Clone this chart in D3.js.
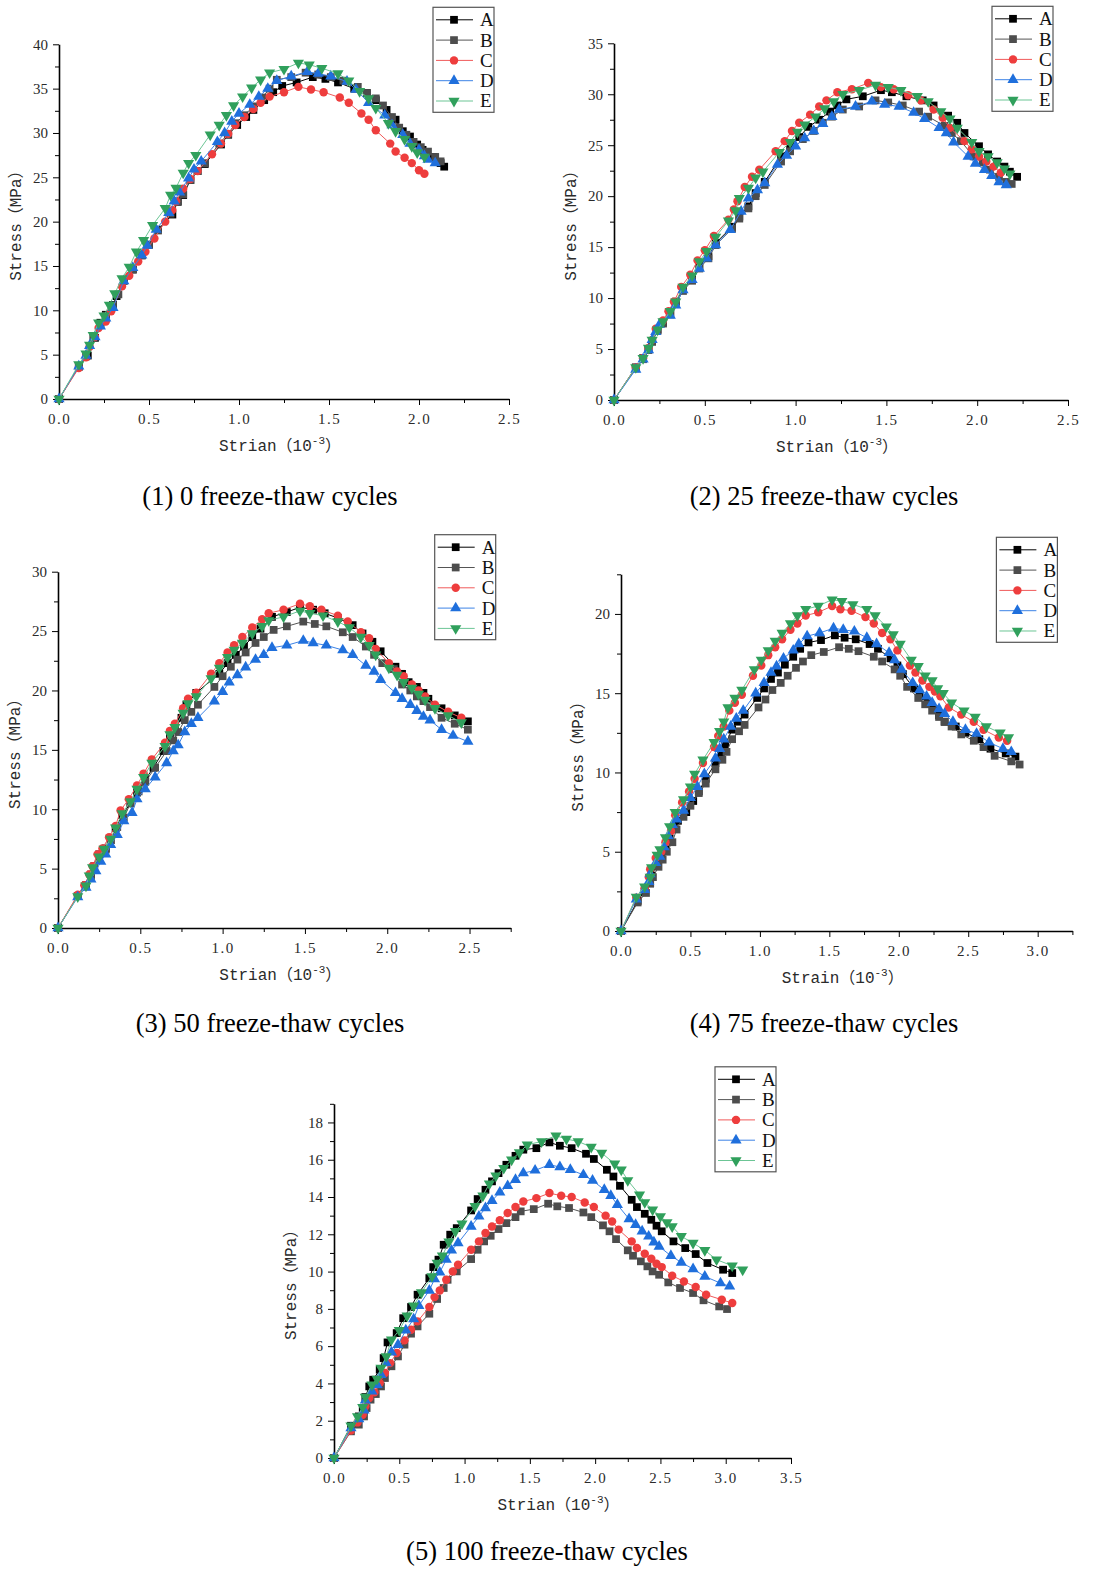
<!DOCTYPE html>
<html>
<head>
<meta charset="utf-8">
<script src="https://cdn.jsdelivr.net/npm/d3@7"></script>
<style>
  body { margin: 0; background: #fff; }
  .tick text { font-family: 'Liberation Serif', serif; font-size: 15px; fill: #2a2a2a; }
  .axis path, .axis line { stroke: #000; }
  .title { font-family: 'Liberation Mono', 'Noto Sans CJK SC', monospace; font-size: 16px; fill: #2a2a2a; }
  .caption { font-family: 'Liberation Serif', serif; font-size: 26.5px; fill: #000; }
  .legtext { font-family: 'Liberation Serif', serif; font-size: 19px; fill: #111; }
</style>
</head>
<body>
<svg id="chart" width="1093" height="1569"></svg>
<script>
// stress-strain curves of five specimens (A-E) after freeze-thaw cycles

var seriesNames = ['A', 'B', 'C', 'D', 'E']
var seriesColors = ['#000000', '#4d4d4d', '#ee3d3d', '#1f6fdc', '#30a05c']
var lineColors = ['#000000', '#555555', '#f05a5a', '#3d83e6', '#6cc595']
var captions = ['(1) 0 freeze-thaw cycles', '(2) 25 freeze-thaw cycles', '(3) 50 freeze-thaw cycles',
  '(4) 75 freeze-thaw cycles', '(5) 100 freeze-thaw cycles']
var xTitles = ['Strian', 'Strian', 'Strian', 'Strain', 'Strian']

// (1) 0 cycles
var p1A = [[0,0],[0.11,3.7],[0.16,4.9],[0.2,6.9],[0.23,8.6],[0.26,9.5],[0.3,10.6],[0.32,11.6],[0.36,13.4],[0.41,14.6],[0.46,16.2],[0.5,17.4],[0.55,19.1],[0.63,20.8],[0.66,22.3],[0.69,23.0],[0.73,24.7],[0.77,25.7],[0.81,26.5],[0.9,28.7],[0.94,29.8],[0.99,30.9],[1.04,31.8],[1.08,32.6],[1.14,33.7],[1.19,34.6],[1.24,35.3],[1.32,35.7],[1.41,36.3],[1.48,36.1],[1.55,35.7],[1.64,35.0],[1.71,34.5],[1.76,33.7],[1.82,32.6],[1.87,31.5],[1.91,30.2],[1.95,29.6],[1.99,28.7],[2.02,28.1],[2.08,27.3],[2.12,26.6],[2.14,26.2]]
var p1B = [[0,0],[0.11,3.6],[0.15,4.8],[0.19,6.9],[0.23,8.4],[0.26,9.4],[0.3,10.5],[0.33,11.8],[0.36,13.3],[0.41,14.6],[0.46,16.2],[0.5,17.4],[0.55,19.0],[0.62,20.9],[0.66,22.2],[0.69,23.1],[0.73,24.7],[0.77,25.7],[0.81,26.6],[0.89,28.8],[0.94,29.9],[0.98,31.1],[1.03,32.0],[1.08,33.0],[1.13,34.0],[1.17,35.0],[1.21,36.0],[1.29,36.3],[1.37,36.8],[1.44,36.6],[1.51,36.3],[1.58,35.9],[1.66,35.2],[1.71,34.5],[1.76,33.9],[1.8,33.1],[1.85,31.8],[1.89,30.6],[1.93,29.8],[1.97,29.0],[2.01,28.4],[2.05,27.9],[2.09,27.3],[2.12,26.8]]
var p1C = [[0,0],[0.11,3.5],[0.15,4.7],[0.17,5.9],[0.2,7.0],[0.22,8.0],[0.26,8.75],[0.29,9.9],[0.35,12.7],[0.39,13.9],[0.44,15.5],[0.48,16.6],[0.53,18.1],[0.59,20.0],[0.63,21.3],[0.65,22.3],[0.69,23.7],[0.73,24.8],[0.77,25.7],[0.85,27.6],[0.9,28.8],[0.94,29.9],[0.98,30.9],[1.03,31.8],[1.08,32.7],[1.12,33.4],[1.17,34.1],[1.25,34.6],[1.33,35.2],[1.4,34.9],[1.47,34.6],[1.56,34.0],[1.61,33.4],[1.68,32.2],[1.72,31.5],[1.76,30.3],[1.84,28.8],[1.87,27.9],[1.92,27.2],[1.96,26.6],[2.0,25.8],[2.03,25.4]]
var p1D = [[0,0],[0.11,3.7],[0.15,4.9],[0.17,6.0],[0.2,7.0],[0.23,8.2],[0.26,9.1],[0.3,10.3],[0.36,13.3],[0.41,14.8],[0.46,16.2],[0.49,17.3],[0.54,19.1],[0.61,21.0],[0.64,22.3],[0.67,23.3],[0.72,24.9],[0.75,25.9],[0.79,26.8],[0.88,29.0],[0.92,30.0],[0.96,31.3],[1.0,32.2],[1.06,33.2],[1.11,34.1],[1.16,35.0],[1.21,35.9],[1.29,36.4],[1.38,36.9],[1.44,36.7],[1.51,36.4],[1.6,35.8],[1.65,34.9],[1.72,33.4],[1.81,32.0],[1.85,30.9],[1.91,29.8],[1.95,28.8],[2.0,28.1],[2.03,27.4],[2.05,27.0],[2.09,26.6]]
var p1E = [[0,0],[0.11,3.9],[0.15,5.1],[0.17,6.1],[0.19,7.2],[0.22,8.6],[0.25,9.4],[0.28,10.6],[0.31,11.9],[0.35,13.6],[0.39,14.9],[0.43,16.6],[0.47,17.9],[0.52,19.6],[0.59,21.5],[0.62,23.0],[0.65,23.8],[0.69,25.5],[0.72,26.6],[0.76,27.5],[0.84,29.8],[0.89,30.9],[0.93,32.0],[0.97,33.1],[1.02,34.1],[1.07,35.1],[1.12,36.0],[1.17,36.8],[1.25,37.2],[1.33,37.9],[1.39,37.7],[1.46,37.3],[1.55,36.7],[1.61,35.9],[1.67,34.7],[1.72,33.9],[1.76,32.8],[1.83,31.1],[1.87,30.2],[1.92,29.3],[1.96,28.5],[1.99,27.8],[2.03,27.3]]

// (2) 25 cycles
var p2A = [[0,0],[0.12,3.2],[0.16,4.1],[0.19,5.0],[0.21,5.8],[0.24,6.9],[0.27,7.6],[0.31,8.6],[0.34,9.65],[0.38,10.9],[0.43,11.9],[0.47,13.1],[0.52,14.1],[0.56,15.4],[0.65,17.0],[0.69,18.0],[0.74,19.0],[0.78,20.3],[0.83,21.4],[0.92,23.9],[0.97,24.9],[1.02,25.8],[1.07,26.8],[1.13,27.5],[1.19,28.3],[1.23,28.9],[1.28,29.5],[1.37,29.8],[1.47,30.4],[1.53,30.2],[1.61,29.8],[1.7,29.4],[1.76,28.9],[1.84,27.9],[1.89,27.2],[1.93,26.2],[2.01,24.9],[2.06,24.1],[2.11,23.4],[2.15,22.9],[2.18,22.4],[2.22,21.9]]
var p2B = [[0,0],[0.12,3.1],[0.16,4.0],[0.19,4.9],[0.21,5.7],[0.24,6.8],[0.27,7.5],[0.31,8.4],[0.34,9.4],[0.38,10.7],[0.43,11.7],[0.47,12.9],[0.52,13.9],[0.56,15.2],[0.65,16.8],[0.69,17.8],[0.74,18.8],[0.78,20.0],[0.83,21.1],[0.92,23.4],[0.97,24.4],[1.04,25.6],[1.1,26.4],[1.15,27.2],[1.2,27.8],[1.26,28.5],[1.35,28.8],[1.44,29.4],[1.51,29.2],[1.59,28.9],[1.68,28.3],[1.73,27.8],[1.82,26.9],[1.86,26.2],[1.91,25.4],[1.98,23.9],[2.03,23.3],[2.07,22.6],[2.12,21.9],[2.16,21.4],[2.19,21.2]]
var p2C = [[0,0],[0.12,3.2],[0.16,4.1],[0.19,5.1],[0.21,5.9],[0.23,7.0],[0.27,7.8],[0.3,8.7],[0.33,9.65],[0.37,11.1],[0.42,12.3],[0.46,13.7],[0.5,14.7],[0.55,16.1],[0.63,17.7],[0.66,18.7],[0.68,19.5],[0.72,20.9],[0.76,21.9],[0.8,22.6],[0.89,24.4],[0.94,25.4],[0.98,26.4],[1.02,27.2],[1.08,28.0],[1.13,28.8],[1.17,29.4],[1.23,30.2],[1.31,30.5],[1.4,31.1],[1.47,30.7],[1.54,30.5],[1.62,29.9],[1.69,29.4],[1.76,28.5],[1.81,27.7],[1.85,26.7],[1.93,25.4],[1.97,24.6],[2.01,23.9],[2.05,23.4],[2.09,22.9],[2.13,22.3]]
var p2D = [[0,0],[0.12,3.0],[0.16,4.0],[0.19,4.9],[0.21,5.9],[0.23,6.7],[0.25,7.4],[0.31,8.3],[0.34,9.3],[0.38,10.8],[0.43,11.8],[0.47,12.9],[0.51,13.9],[0.56,15.2],[0.64,16.7],[0.7,18.5],[0.74,19.8],[0.79,20.6],[0.83,21.3],[0.9,23.1],[0.95,24.0],[1.0,24.9],[1.05,25.7],[1.1,26.4],[1.15,27.1],[1.2,27.8],[1.24,28.5],[1.33,28.8],[1.42,29.3],[1.49,29.0],[1.57,28.8],[1.65,28.2],[1.71,27.6],[1.79,26.7],[1.83,26.2],[1.87,25.3],[1.95,23.9],[1.99,23.2],[2.04,22.6],[2.08,22.0],[2.12,21.4],[2.16,21.1]]
var p2E = [[0,0],[0.12,3.2],[0.16,4.1],[0.19,5.1],[0.21,5.9],[0.24,6.9],[0.27,7.7],[0.31,8.7],[0.34,9.65],[0.38,11.1],[0.43,12.2],[0.47,13.6],[0.51,14.6],[0.56,16.0],[0.63,17.6],[0.67,18.6],[0.69,19.8],[0.74,20.8],[0.78,21.8],[0.82,22.4],[0.91,24.3],[0.97,25.3],[1.01,26.3],[1.05,27.0],[1.11,27.8],[1.16,28.6],[1.21,29.3],[1.26,30.0],[1.35,30.4],[1.44,30.9],[1.51,30.7],[1.58,30.4],[1.67,29.8],[1.73,29.3],[1.8,28.3],[1.85,27.6],[1.89,26.7],[1.97,25.3],[2.01,24.4],[2.06,23.9],[2.11,23.3],[2.15,22.7],[2.18,22.2]]

// (3) 50 cycles
var p3A = [[0,0],[0.12,2.7],[0.17,3.6],[0.2,4.5],[0.22,5.2],[0.25,6.2],[0.29,6.7],[0.32,7.4],[0.35,8.4],[0.39,9.5],[0.44,10.5],[0.48,11.4],[0.53,12.5],[0.58,13.5],[0.64,14.9],[0.68,16.0],[0.71,16.7],[0.75,17.7],[0.78,18.8],[0.84,19.8],[0.98,21.4],[1.03,22.3],[1.08,23.0],[1.13,23.7],[1.18,24.5],[1.23,25.2],[1.3,26.2],[1.39,26.6],[1.47,27.0],[1.55,26.8],[1.62,26.5],[1.7,26.1],[1.79,25.5],[1.85,24.8],[1.91,24.1],[1.96,23.3],[2.05,22.0],[2.09,21.4],[2.13,20.7],[2.18,20.3],[2.22,19.8],[2.25,19.3],[2.33,18.5],[2.41,17.9],[2.49,17.4]]
var p3B = [[0,0],[0.12,2.7],[0.17,3.5],[0.2,4.35],[0.22,5.0],[0.25,5.9],[0.29,6.6],[0.32,7.4],[0.36,8.5],[0.4,9.3],[0.44,10.5],[0.49,11.5],[0.53,12.3],[0.59,13.5],[0.66,14.9],[0.7,15.8],[0.73,16.5],[0.77,17.5],[0.81,18.2],[0.85,18.8],[0.95,20.3],[1.0,21.2],[1.05,22.0],[1.09,22.6],[1.14,23.2],[1.2,24.0],[1.25,24.5],[1.31,25.1],[1.39,25.4],[1.49,25.8],[1.56,25.6],[1.63,25.4],[1.73,24.9],[1.79,24.5],[1.87,23.7],[1.92,23.0],[1.97,22.3],[2.04,21.8],[2.09,20.5],[2.14,20.0],[2.18,19.5],[2.22,19.1],[2.26,18.6],[2.33,17.7],[2.41,17.2],[2.49,16.7]]
var p3C = [[0,0],[0.12,2.8],[0.16,3.6],[0.19,4.5],[0.21,5.2],[0.24,6.2],[0.27,6.7],[0.31,7.65],[0.35,8.6],[0.38,9.9],[0.43,10.85],[0.48,12.0],[0.52,13.0],[0.57,14.2],[0.65,15.6],[0.68,16.6],[0.71,17.2],[0.76,18.5],[0.79,19.3],[0.84,19.8],[0.93,21.4],[0.98,22.3],[1.03,23.2],[1.07,23.8],[1.12,24.5],[1.18,25.3],[1.24,26.0],[1.28,26.5],[1.37,26.8],[1.47,27.3],[1.53,27.1],[1.6,26.8],[1.7,26.3],[1.76,25.8],[1.84,24.9],[1.89,24.4],[1.93,23.5],[2.01,22.3],[2.06,21.6],[2.1,21.2],[2.15,20.5],[2.19,20.0],[2.23,19.5],[2.29,18.8],[2.37,18.2],[2.45,17.7]]
var p3D = [[0,0],[0.12,2.6],[0.17,3.4],[0.2,4.1],[0.23,4.8],[0.26,5.6],[0.29,6.2],[0.32,7.0],[0.36,7.85],[0.4,9.0],[0.45,9.7],[0.48,10.85],[0.53,11.7],[0.59,12.7],[0.66,13.9],[0.7,14.9],[0.73,15.4],[0.77,16.5],[0.81,17.2],[0.85,17.7],[0.95,19.1],[1.0,19.9],[1.04,20.7],[1.09,21.3],[1.14,21.95],[1.2,22.6],[1.25,23.0],[1.3,23.6],[1.39,23.8],[1.49,24.2],[1.55,24.0],[1.63,23.8],[1.73,23.4],[1.79,23.0],[1.87,22.1],[1.92,21.6],[1.96,20.9],[2.05,19.8],[2.09,19.3],[2.14,18.8],[2.18,18.3],[2.22,17.8],[2.26,17.5],[2.33,16.7],[2.4,16.2],[2.49,15.7]]
var p3E = [[0,0],[0.12,2.65],[0.17,3.55],[0.19,4.4],[0.21,5.1],[0.25,6.0],[0.28,6.65],[0.32,7.5],[0.35,8.45],[0.39,9.65],[0.44,10.65],[0.48,11.7],[0.52,12.7],[0.57,13.9],[0.65,15.3],[0.68,16.3],[0.71,16.9],[0.76,18.1],[0.79,18.9],[0.84,19.5],[0.93,21.0],[0.98,21.9],[1.03,22.8],[1.07,23.4],[1.12,24.0],[1.18,24.8],[1.24,25.4],[1.28,25.9],[1.37,26.2],[1.47,26.7],[1.53,26.5],[1.61,26.3],[1.7,25.8],[1.77,25.3],[1.84,24.5],[1.89,23.8],[1.93,23.0],[2.01,21.9],[2.06,21.3],[2.1,20.7],[2.15,20.2],[2.19,19.7],[2.23,19.2],[2.29,18.5],[2.37,17.9],[2.45,17.3]]

// (4) 75 cycles
var p4A = [[0,0],[0.12,1.9],[0.17,2.5],[0.21,3.0],[0.22,3.5],[0.26,4.2],[0.29,4.6],[0.32,5.15],[0.35,5.85],[0.38,6.5],[0.41,6.95],[0.47,7.5],[0.52,8.2],[0.56,8.8],[0.61,9.6],[0.68,10.6],[0.72,11.2],[0.75,11.75],[0.8,12.7],[0.84,13.2],[0.89,13.65],[0.98,14.7],[1.03,15.3],[1.08,15.9],[1.13,16.3],[1.18,16.8],[1.24,17.3],[1.29,17.8],[1.35,18.2],[1.44,18.35],[1.54,18.65],[1.61,18.5],[1.69,18.4],[1.79,18.1],[1.85,17.8],[1.94,17.2],[1.99,16.75],[2.03,16.2],[2.11,15.3],[2.15,14.8],[2.21,14.4],[2.25,14.0],[2.29,13.6],[2.33,13.2],[2.41,12.9],[2.48,12.5],[2.58,12.1],[2.66,11.5],[2.77,11.2],[2.84,11.0]]
var p4B = [[0,0],[0.12,1.8],[0.18,2.4],[0.21,3.0],[0.23,3.4],[0.27,4.05],[0.3,4.5],[0.33,5.0],[0.37,5.6],[0.4,6.4],[0.45,7.2],[0.5,7.9],[0.56,8.7],[0.61,9.3],[0.68,10.2],[0.73,10.8],[0.76,11.3],[0.8,12.1],[0.85,12.6],[0.89,13.0],[0.99,14.1],[1.04,14.6],[1.09,15.2],[1.15,15.65],[1.2,16.1],[1.26,16.6],[1.31,17.0],[1.37,17.4],[1.46,17.6],[1.57,17.9],[1.64,17.8],[1.71,17.65],[1.82,17.3],[1.88,17.0],[1.97,16.5],[2.01,16.1],[2.06,15.4],[2.14,14.7],[2.19,14.3],[2.24,13.9],[2.29,13.5],[2.33,13.2],[2.38,12.9],[2.45,12.4],[2.54,12.0],[2.61,11.6],[2.69,11.05],[2.81,10.7],[2.87,10.5]]
var p4C = [[0,0],[0.11,2.1],[0.17,2.7],[0.2,3.4],[0.21,3.9],[0.25,4.6],[0.29,5.0],[0.32,5.6],[0.36,6.3],[0.39,7.3],[0.44,8.1],[0.49,8.8],[0.53,9.6],[0.59,10.6],[0.67,11.6],[0.7,12.3],[0.74,12.9],[0.78,13.9],[0.82,14.4],[0.87,14.9],[0.95,16.1],[1.01,16.75],[1.06,17.4],[1.11,17.9],[1.16,18.4],[1.22,19.0],[1.27,19.4],[1.33,19.9],[1.42,20.1],[1.52,20.5],[1.58,20.3],[1.66,20.2],[1.76,19.8],[1.82,19.4],[1.88,18.8],[1.94,18.4],[1.99,17.7],[2.08,16.75],[2.12,16.3],[2.17,15.8],[2.22,15.4],[2.26,15.1],[2.3,14.8],[2.36,14.1],[2.45,13.65],[2.54,13.2],[2.61,12.7],[2.72,12.2],[2.78,12.0]]
var p4D = [[0,0],[0.11,2.0],[0.17,2.6],[0.2,3.1],[0.21,3.6],[0.25,4.3],[0.28,4.7],[0.31,5.3],[0.34,6.0],[0.37,6.7],[0.4,7.05],[0.45,7.6],[0.5,8.4],[0.55,9.1],[0.6,9.9],[0.68,10.9],[0.71,11.5],[0.74,12.1],[0.79,12.9],[0.83,13.4],[0.88,13.9],[0.97,15.0],[1.03,15.65],[1.08,16.3],[1.12,16.7],[1.17,17.2],[1.24,17.7],[1.28,18.1],[1.34,18.6],[1.43,18.8],[1.53,19.1],[1.6,19.0],[1.68,18.9],[1.77,18.5],[1.84,18.1],[1.93,17.55],[1.97,17.1],[2.02,16.5],[2.1,15.65],[2.15,15.2],[2.2,14.8],[2.24,14.4],[2.29,14.0],[2.33,13.7],[2.39,13.2],[2.48,12.7],[2.56,12.45],[2.65,11.9],[2.75,11.5],[2.81,11.3]]
var p4E = [[0,0],[0.11,2.15],[0.17,2.8],[0.21,3.4],[0.22,4.0],[0.26,4.8],[0.28,5.15],[0.32,5.9],[0.35,6.6],[0.39,7.5],[0.45,8.3],[0.5,9.1],[0.53,9.9],[0.59,10.8],[0.67,11.9],[0.71,12.6],[0.74,13.2],[0.77,14.1],[0.82,14.7],[0.87,15.2],[0.96,16.5],[1.01,17.1],[1.06,17.7],[1.11,18.3],[1.16,18.8],[1.22,19.4],[1.27,19.9],[1.33,20.3],[1.42,20.5],[1.52,20.9],[1.59,20.8],[1.67,20.6],[1.77,20.3],[1.83,19.9],[1.91,19.2],[1.96,18.7],[2.01,18.1],[2.09,17.1],[2.14,16.7],[2.19,16.1],[2.24,15.8],[2.28,15.3],[2.32,15.0],[2.38,14.4],[2.47,13.9],[2.55,13.5],[2.63,12.9],[2.73,12.5],[2.79,12.2]]

// (5) 100 cycles
var p5A = [[0,0],[0.13,1.73],[0.19,2.23],[0.22,2.68],[0.24,3.27],[0.27,3.84],[0.3,4.2],[0.35,4.74],[0.38,5.36],[0.41,6.2],[0.48,6.7],[0.53,7.5],[0.59,8.1],[0.64,8.76],[0.73,9.65],[0.76,10.24],[0.8,10.64],[0.84,11.44],[0.89,11.98],[0.94,12.33],[1.05,13.28],[1.1,13.89],[1.16,14.39],[1.21,14.84],[1.26,15.28],[1.32,15.73],[1.39,16.21],[1.45,16.54],[1.55,16.62],[1.65,16.93],[1.73,16.75],[1.82,16.62],[1.93,16.32],[1.99,16.04],[2.09,15.46],[2.14,15.1],[2.19,14.6],[2.28,13.85],[2.32,13.46],[2.38,13.1],[2.43,12.78],[2.47,12.46],[2.51,12.16],[2.6,11.62],[2.69,11.26],[2.77,10.94],[2.86,10.46],[2.98,10.1],[3.05,9.92]]
var p5B = [[0,0],[0.13,1.43],[0.19,1.79],[0.23,2.23],[0.25,2.68],[0.28,3.13],[0.32,3.43],[0.36,3.84],[0.39,4.29],[0.44,4.92],[0.49,5.45],[0.54,6.08],[0.59,6.67],[0.64,7.06],[0.73,7.74],[0.79,8.53],[0.84,9.12],[0.87,9.56],[0.94,10.01],[1.05,10.67],[1.1,11.17],[1.15,11.62],[1.2,11.92],[1.26,12.28],[1.32,12.6],[1.39,12.92],[1.43,13.23],[1.53,13.35],[1.64,13.64],[1.71,13.5],[1.8,13.41],[1.91,13.17],[1.97,12.92],[2.06,12.48],[2.11,12.16],[2.16,11.74],[2.25,11.14],[2.29,10.85],[2.35,10.55],[2.4,10.28],[2.44,10.01],[2.49,9.83],[2.56,9.42],[2.65,9.12],[2.75,8.85],[2.83,8.46],[2.95,8.13],[3.01,7.99]]
var p5C = [[0,0],[0.13,1.48],[0.18,1.91],[0.22,2.32],[0.24,2.77],[0.27,3.22],[0.31,3.52],[0.35,4.02],[0.39,4.56],[0.43,5.09],[0.48,5.63],[0.54,6.31],[0.59,6.88],[0.64,7.33],[0.73,8.1],[0.77,8.63],[0.81,8.99],[0.86,9.56],[0.91,10.01],[0.95,10.37],[1.05,11.17],[1.11,11.62],[1.16,12.07],[1.21,12.42],[1.27,12.75],[1.33,13.14],[1.39,13.46],[1.45,13.76],[1.55,13.94],[1.65,14.21],[1.74,14.07],[1.82,14.0],[1.92,13.71],[1.99,13.46],[2.08,13.0],[2.13,12.69],[2.18,12.25],[2.28,11.62],[2.32,11.26],[2.38,10.96],[2.43,10.69],[2.47,10.42],[2.51,10.24],[2.59,9.78],[2.68,9.47],[2.77,9.17],[2.85,8.76],[2.97,8.49],[3.05,8.31]]
var p5D = [[0,0],[0.13,1.61],[0.19,2.09],[0.23,2.56],[0.24,3.09],[0.29,3.58],[0.33,3.93],[0.36,4.47],[0.4,5.09],[0.44,5.67],[0.49,6.08],[0.55,6.85],[0.61,7.45],[0.65,8.17],[0.73,8.99],[0.77,9.6],[0.81,9.96],[0.86,10.64],[0.9,11.14],[0.95,11.53],[1.05,12.42],[1.11,12.96],[1.16,13.41],[1.21,13.8],[1.27,14.25],[1.33,14.6],[1.39,14.93],[1.45,15.28],[1.54,15.43],[1.65,15.73],[1.73,15.61],[1.81,15.46],[1.91,15.19],[1.98,14.89],[2.07,14.39],[2.12,14.07],[2.17,13.59],[2.26,12.82],[2.31,12.51],[2.36,12.16],[2.41,11.89],[2.45,11.57],[2.49,11.35],[2.58,10.85],[2.66,10.49],[2.75,10.14],[2.84,9.74],[2.96,9.38],[3.03,9.21]]
var p5E = [[0,0],[0.13,1.73],[0.18,2.23],[0.22,2.73],[0.24,3.27],[0.29,3.93],[0.33,4.24],[0.36,4.83],[0.4,5.45],[0.44,6.35],[0.5,6.85],[0.56,7.63],[0.61,8.17],[0.67,8.88],[0.75,9.74],[0.79,10.46],[0.83,10.85],[0.88,11.6],[0.93,12.16],[0.98,12.57],[1.08,13.5],[1.14,14.07],[1.19,14.71],[1.24,15.14],[1.3,15.55],[1.36,16.0],[1.42,16.39],[1.48,16.8],[1.59,16.98],[1.7,17.29],[1.78,17.11],[1.87,16.98],[1.97,16.68],[2.05,16.36],[2.15,15.78],[2.2,15.46],[2.25,14.89],[2.34,14.12],[2.38,13.71],[2.44,13.32],[2.5,12.96],[2.55,12.64],[2.59,12.42],[2.66,11.89],[2.75,11.53],[2.84,11.14],[2.93,10.64],[3.05,10.31],[3.13,10.1]]

// panel layout (pixels) + axis ranges
var panels = [
  { data: [p1A, p1B, p1C, p1D, p1E], x0: 59, x1: 509, y0: 399, y1: 44.3, xMax: 2.5, yMax: 40, yStep: 5, capX: 270, capY: 505 },
  { data: [p2A, p2B, p2C, p2D, p2E], x0: 614, x1: 1068, y0: 400, y1: 43.3, xMax: 2.5, yMax: 35, yStep: 5, capX: 824, capY: 505 },
  { data: [p3A, p3B, p3C, p3D, p3E], x0: 58, x1: 510.7, y0: 928, y1: 571.7, xMax: 2.75, yMax: 30, yStep: 5, capX: 270, capY: 1032 },
  { data: [p4A, p4B, p4C, p4D, p4E], x0: 621, x1: 1072.4, y0: 931, y1: 574.3, xMax: 3.25, yMax: 22.5, yStep: 5, capX: 824, capY: 1032 },
  { data: [p5A, p5B, p5C, p5D, p5E], x0: 334, x1: 791, y0: 1458, y1: 1103.8, xMax: 3.5, yMax: 19, yStep: 2, capX: 547, capY: 1560 }
]

var svg = d3.select('#chart')

var symbols = [
  d3.symbol().type(d3.symbolSquare).size(60),
  d3.symbol().type(d3.symbolSquare).size(60),
  d3.symbol().type(d3.symbolCircle).size(56),
  d3.symbol().type(d3.symbolTriangle).size(54),
  d3.symbol().type(d3.symbolTriangle).size(54)
]
var rot = [0, 0, 0, 0, 180]

panels.forEach(function (p, pi) {
  var xScale = d3.scaleLinear().domain([0, p.xMax]).range([p.x0, p.x1])
  var yScale = d3.scaleLinear().domain([0, p.yMax]).range([p.y0, p.y1])
  var g = svg.append('g')

  var xMajor = d3.range(0, p.xMax + 0.001, 0.5)
  var xMinor = d3.range(0.25, p.xMax + 0.001, 0.5)
  var yMajor = d3.range(0, p.yMax + 0.001, p.yStep)
  var yMinor = d3.range(p.yStep / 2, p.yMax + 0.001, p.yStep)

  // minor ticks
  g.append('g').attr('class', 'axis')
    .attr('transform', 'translate(0,' + p.y0 + ')')
    .call(d3.axisBottom(xScale).tickValues(xMinor).tickSize(4).tickFormat(''))
    .call(function (a) { a.select('.domain').remove() })
  g.append('g').attr('class', 'axis')
    .attr('transform', 'translate(' + p.x0 + ',0)')
    .call(d3.axisLeft(yScale).tickValues(yMinor).tickSize(4).tickFormat(''))
    .call(function (a) { a.select('.domain').remove() })

  // X-axis
  g.append('g').attr('class', 'axis')
    .attr('transform', 'translate(0,' + p.y0 + ')')
    .call(d3.axisBottom(xScale).tickValues(xMajor).tickSize(6).tickSizeOuter(0).tickPadding(8).tickFormat(d3.format('.1f')))
    .call(function (a) {
      a.select('.domain').attr('stroke-width', 1.6)
      a.selectAll('.tick text').attr('letter-spacing', 1.5)
    })

  // Y-axis
  g.append('g').attr('class', 'axis')
    .attr('transform', 'translate(' + p.x0 + ',0)')
    .call(d3.axisLeft(yScale).tickValues(yMajor).tickSize(6).tickSizeOuter(0).tickPadding(5).tickFormat(d3.format('d')))
    .call(function (a) { a.select('.domain').attr('stroke-width', 1.6) })

  // axis titles
  g.append('text').attr('class', 'title')
    .attr('transform', 'translate(' + (p.x0 - 38) + ',' + ((p.y0 + p.y1) / 2) + ') rotate(-90)')
    .attr('text-anchor', 'middle')
    .text('Stress（MPa）')

  var xt = g.append('text').attr('class', 'title')
    .attr('x', (p.x0 + p.x1) / 2 - 4)
    .attr('y', p.y0 + 52)
    .attr('text-anchor', 'middle')
  xt.append('tspan').text(xTitles[pi] + '（10')
  xt.append('tspan').attr('dy', -7).attr('font-size', 11).text('-3')
  xt.append('tspan').attr('dy', 7).text('）')

  // curves
  var line = d3.line().x(function (d) { return xScale(d[0]) }).y(function (d) { return yScale(d[1]) })
  p.data.forEach(function (s, si) {
    g.append('path').datum(s)
      .attr('d', line)
      .attr('fill', 'none')
      .attr('stroke', lineColors[si])
      .attr('stroke-width', 1)
    g.selectAll('.m' + si).data(s).enter()
      .append('path')
      .attr('class', 'm' + si)
      .attr('d', symbols[si])
      .attr('fill', seriesColors[si])
      .attr('transform', function (d) {
        return 'translate(' + xScale(d[0]) + ',' + yScale(d[1]) + ') rotate(' + rot[si] + ')'
      })
  })

  // legend
  var lg = g.append('g').attr('transform', 'translate(' + (p.x1 - 76) + ',' + (p.y1 - 37) + ')')
  lg.append('rect').attr('width', 61).attr('height', 105)
    .attr('fill', '#fff').attr('stroke', '#555').attr('stroke-width', 1.2)
  seriesNames.forEach(function (n, si) {
    var ry = 12.5 + si * 20.3
    lg.append('line').attr('x1', 3).attr('x2', 40).attr('y1', ry).attr('y2', ry)
      .attr('stroke', lineColors[si]).attr('stroke-width', 1)
    lg.append('path').attr('d', symbols[si])
      .attr('fill', seriesColors[si])
      .attr('transform', 'translate(21,' + ry + ') rotate(' + rot[si] + ')')
    lg.append('text').attr('class', 'legtext')
      .attr('x', 47).attr('y', ry + 6.5)
      .text(n)
  })

  // caption
  svg.append('text').attr('class', 'caption')
    .attr('x', p.capX).attr('y', p.capY)
    .attr('text-anchor', 'middle')
    .text(captions[pi])
})
</script>
</body>
</html>
